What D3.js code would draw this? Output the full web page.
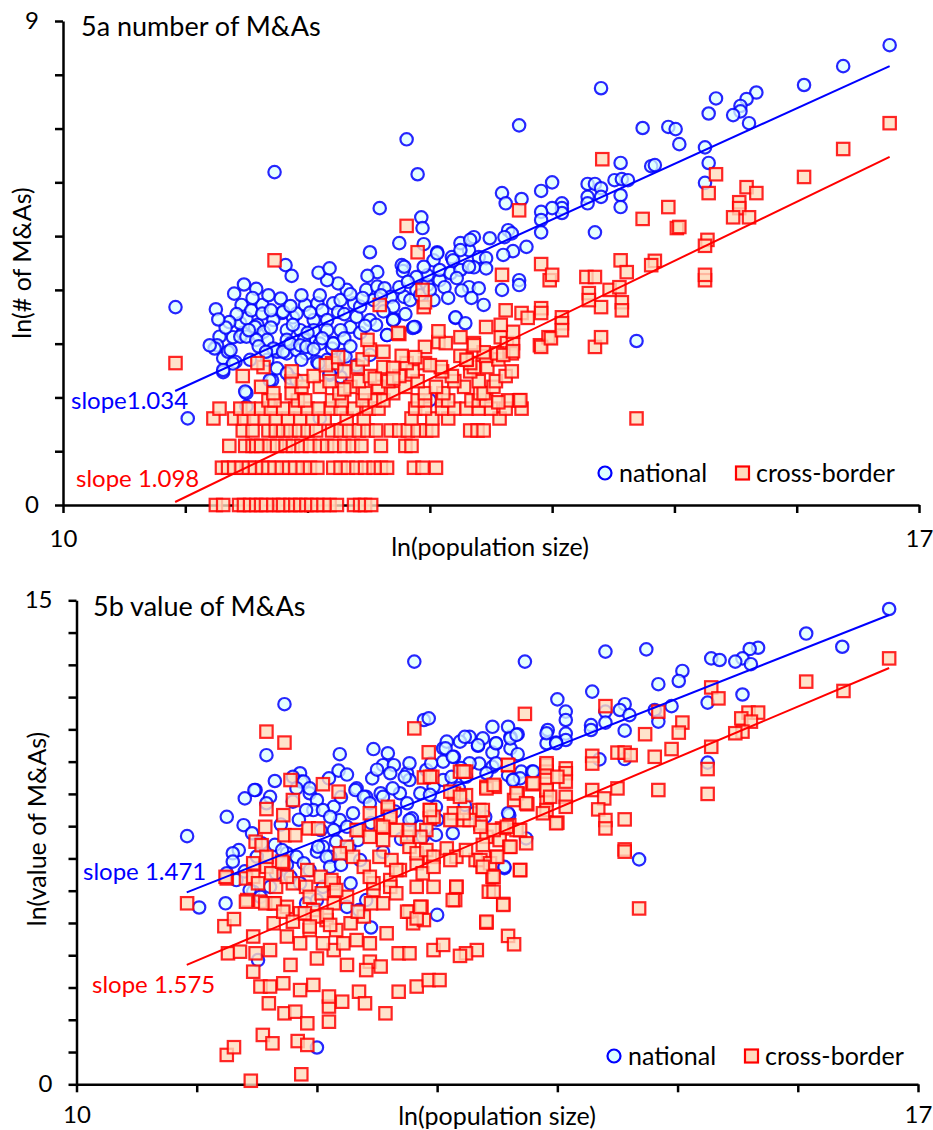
<!DOCTYPE html>
<html>
<head>
<meta charset="utf-8">
<script src="https://cdn.jsdelivr.net/npm/d3@7"></script>
<style>
  body { margin: 0; background: #fff; }
  svg text { font-family: Lato, "Open Sans", sans-serif; fill: #000; }
</style>
</head>
<body>
<svg id="chart" width="933" height="1130"></svg>
<script>
// ---- data: x = ln(population size) ----
const xTicks = [10, 11, 12, 13, 14, 15, 16, 17];
const fitX = [10.917, 16.76];

// panel 5a: y = ln(# of M&As)
const natA = [
  [16.76,8.55],[16.38,8.16],[16.06,7.81],[15.67,7.67],[15.59,7.55],[15.54,7.42],[15.54,7.32],[15.48,7.25],[15.61,7.10],[15.34,7.56],
  [15.28,7.28],[14.40,7.75],[13.73,7.06],[14.74,7.01],[14.95,7.03],[15.01,6.99],[15.04,6.71],[15.25,6.65],[15.28,6.36],[15.25,5.99],
  [14.56,6.36],[14.81,6.30],[14.84,6.32],[14.51,6.04],[14.57,6.06],[14.62,6.04],[14.56,5.76],[14.56,5.54],[14.29,5.97],[14.35,5.97],
  [14.40,5.89],[14.40,5.73],[14.29,5.73],[14.29,5.61],[14.00,6.00],[13.91,5.84],[13.59,5.80],[13.62,5.61],[13.75,5.69],[14.08,5.61],
  [14.08,5.52],[14.08,5.43],[14.00,5.52],[13.91,5.45],[13.91,5.30],[13.91,5.07],[14.35,5.07],[13.64,5.11],[13.67,5.05],[13.36,4.98],
  [13.49,4.96],[13.61,4.98],[13.79,4.80],[13.68,4.72],[13.60,4.65],[13.32,4.74],[13.40,4.61],[13.46,4.59],[13.36,4.42],[13.46,4.40],
  [13.73,4.18],[11.73,6.19],[12.81,6.80],[12.90,6.15],[12.59,5.52],[12.93,5.35],[12.94,5.15],[12.75,4.87],[12.51,4.70],[12.95,4.85],
  [11.82,4.46],[13.25,4.87],[13.06,4.70],[13.18,4.61],[12.77,4.46],[10.92,3.68],[11.25,3.64],[11.87,4.26],[12.57,4.33],[12.49,4.26],
  [12.78,4.35],[13.21,3.48],[12.71,3.46],[12.88,3.31],[11.02,1.61],[11.31,2.47],[11.41,2.66],[11.39,3.12],[11.47,3.20],[11.50,2.08],
  [11.59,3.35],[11.60,3.16],[11.71,2.32],[11.75,2.88],[11.86,2.36],[11.91,2.32],[11.79,3.57],[11.88,3.49],[11.94,3.25],[12.02,3.07],
  [12.08,2.66],[12.18,2.42],[12.27,2.38],[12.21,3.01],[12.29,2.79],[12.41,2.57],[12.35,3.31],[12.43,3.20],[12.51,3.44],[12.70,3.44],
  [12.86,3.29],[13.00,1.95],[13.21,3.49],[13.29,3.38],[13.32,4.05],[13.40,4.03],[13.59,4.00],[13.73,4.09],[13.34,3.85],[13.44,3.72],
  [14.69,3.05],[11.40,3.93],[11.48,4.10],[11.58,4.02],[11.46,3.72],[11.28,3.13],[11.26,2.97],[11.24,2.91],[11.31,2.73],[11.35,2.85],
  [11.45,3.13],[11.45,3.38],[11.50,3.47],[11.54,3.62],[11.63,3.72],[11.63,3.56],[11.57,3.31],[11.64,3.22],[11.67,3.07],[11.72,3.44],
  [11.78,3.84],[11.80,3.59],[11.83,3.25],[11.75,2.85],[11.83,2.82],[11.91,3.56],[11.98,3.72],[12.08,3.75],[12.05,3.44],[12.05,3.25],
  [12.12,3.62],[12.16,3.44],[12.21,3.75],[12.25,3.59],[12.27,3.81],[12.32,4.00],[12.38,3.75],[12.25,4.12],[12.16,4.18],[12.09,4.32],
  [12.18,4.40],[12.40,3.50],[12.43,3.69],[12.48,4.00],[12.57,4.06],[12.54,3.81],[12.63,4.03],[12.68,3.87],[12.70,3.69],[12.79,3.87],
  [12.84,3.81],[12.89,4.00],[12.98,4.09],[13.03,3.81],[13.08,4.18],[12.98,4.27],[12.89,4.24],[13.03,4.55],[13.08,4.37],[13.17,4.31],
  [13.25,4.37],[13.26,3.99],[13.32,4.43],[13.19,4.55],[13.25,4.74],[13.33,4.93],[13.06,4.68],[12.95,4.43],[12.79,4.43],[12.70,3.44],
  [12.87,3.31],[12.65,3.16],[12.51,2.79],[12.40,2.60],[12.31,2.76],[11.97,3.07],[11.91,2.88],[11.83,3.07],[12.16,3.25],[12.27,3.25],
  [11.99,2.82],[11.67,2.70],[11.53,2.70],[11.39,2.63],[12.16,2.70],[12.20,2.91],[12.24,2.57],[11.20,2.97],[11.37,2.88],[11.50,3.13],
  [11.58,3.07],[11.72,2.91],[11.80,2.85],[11.86,3.00],[11.94,2.97],[11.99,2.94],[12.10,3.00],[12.21,3.00],[12.09,2.63],[12.18,2.45],
  [11.69,2.32],[11.75,2.54],[11.83,2.45],[11.31,2.51],[11.49,2.11],[11.50,1.83],[12.10,1.61],[12.65,3.16],
  [11.55,3.85],[11.68,3.90],[11.70,3.62],[11.86,3.70],[11.95,3.90],[12.02,3.58],[12.10,3.90],[12.30,3.55],[12.35,3.92],[12.45,3.85],
  [12.60,3.90],[12.62,3.60],[12.75,4.05],[12.82,4.15],[12.92,3.90],[13.00,4.00],[13.12,4.05],[13.15,3.85],[13.22,4.22],[12.56,3.35],
  [12.47,3.33],[12.80,3.55],[11.42,3.55],[11.36,3.40],[11.52,3.25],[11.70,3.30],[11.88,3.35],[12.00,3.20],[12.12,3.10],[12.30,3.10],
  [11.33,3.30],[11.27,3.45],[11.60,2.95],[11.66,2.85],[11.95,2.70],[12.05,2.90],[12.35,2.95]
];

// cross-border 5a, low counts sit on rows ln(1), ln(2), ln(3) ...
const crossARows = [
  [0,     [11.25,11.31,11.44,11.48,11.53,11.58,11.62,11.66,11.72,11.77,11.80,11.86,11.90,11.94,11.99,12.03,12.08,12.13,12.18,12.24,12.38,12.43,12.47,12.52]],
  [0.693, [11.30,11.35,11.40,11.46,11.52,11.57,11.63,11.68,11.73,11.79,11.85,11.90,11.96,12.02,12.08,12.21,12.27,12.33,12.40,12.47,12.54,12.60,12.65,12.87,12.94,13.05]],
  [1.099, [11.36,11.49,11.55,11.58,11.62,11.69,11.75,11.82,11.88,11.95,12.02,12.10,12.16,12.22,12.30,12.37,12.44,12.60,12.80,12.85]],
  [1.386, [11.47,11.55,11.68,11.74,11.80,11.86,11.93,12.00,12.07,12.20,12.27,12.34,12.42,12.49,12.56,12.68,12.75,12.82,12.90,12.97,13.02,13.33,13.39,13.44]],
  [1.609, [11.23,11.40,11.48,11.56,11.65,11.74,11.84,11.94,12.04,12.14,12.32,12.46,12.85,13.02,13.15,13.57]],
  [1.792, [11.28,11.45,11.52,11.62,11.70,11.80,11.90,12.00,12.09,12.19,12.27,12.38,12.50,12.58,12.88,12.96,13.10,13.20,13.30,13.40,13.50,13.62,13.75]],
  [1.946, [11.68,11.73,11.92,11.98,12.20,12.28,12.45,12.55,12.62,12.90,12.96,13.10,13.15,13.34,13.40,13.46,13.64,13.73]],
  [2.079, [11.72,11.87,12.26,12.47,12.70,12.96,13.11,13.41,13.44]],
  [2.197, [11.62,11.95,12.10,12.35,12.58,12.80,13.05,13.28,13.52]],
  [2.303, [11.87,11.96,12.18,12.42,12.66,12.90,13.20,13.40,13.54]],
  [2.398, [11.47,12.05,12.51,12.75,13.18,13.62]],
  [2.485, [11.87,12.30,12.86,13.10,13.33,13.67]],
  [2.565, [11.64,12.41,12.62,13.09,13.36,13.47]],
  [2.639, [10.92,11.59,12.20,12.81,12.96,13.33]],
  [2.708, [12.45,13.30,13.56]],
  [2.773, [12.77,13.25,13.46]]
];
const crossAUpper = [
  [12.96,2.94],[12.51,2.89],[12.49,3.07],[13.07,3.03],[13.13,3.01],[13.25,3.12],[13.36,3.01],[13.58,3.12],[13.63,3.01],[13.68,3.01],
  [13.90,2.97],[13.97,3.12],[12.75,3.18],[13.07,3.23],[13.55,2.82],[13.67,2.82],[13.60,2.79],[13.68,2.86],[13.44,2.84],[13.91,2.94],
  [14.35,2.94],[13.99,3.10],[14.40,3.12],[13.68,3.22],[13.58,3.35],[13.46,3.31],[13.62,3.62],[13.75,3.57],[13.80,3.48],[14.08,3.49],
  [14.08,3.38],[14.08,3.25],[13.91,3.66],[13.91,3.57],[14.40,3.68],[14.57,3.77],[14.57,3.62],[14.30,3.94],[14.30,3.81],[14.47,4.00],
  [14.55,4.05],[13.98,4.18],[15.25,4.18],[12.94,4.00],[12.95,3.68],[12.96,3.77],[12.59,3.72],[12.74,3.20],[11.73,4.55],[12.81,5.19],
  [12.90,4.70],[14.69,1.61],[13.56,1.91],[13.74,1.95],[14.41,6.43],[13.73,5.48],[14.95,5.54],[14.74,5.32],[15.34,6.15],[15.28,5.80],
  [15.59,5.91],[15.67,5.80],[15.53,5.63],[15.53,5.52],[15.48,5.35],[15.61,5.35],[15.02,5.15],[15.04,5.17],[16.06,6.10],[16.38,6.62],
  [16.76,7.10],[15.27,4.93],[15.25,4.82],[15.25,4.28],[13.91,4.48],[14.00,4.28],[14.56,4.55],[14.84,4.54],[14.81,4.46],[14.61,4.33],
  [14.28,4.24],[14.35,4.24],[13.59,4.28],[13.36,2.97],[13.30,2.70],
  [12.15,2.60],[12.25,2.75],[12.62,2.85],[12.70,2.55],[12.88,2.75],[13.00,2.60],[12.55,2.35],[12.30,2.15],[12.70,2.35]
];

// panel 5b: y = ln(value of M&As)
const natB = [
  [16.76,14.73],[16.37,13.56],[16.07,13.97],[15.67,13.53],[15.60,13.49],[15.54,13.20],[15.48,13.10],[15.61,13.02],[15.28,13.20],[15.35,13.15],
  [14.74,13.48],[14.40,13.41],[13.73,13.10],[15.04,12.81],[15.01,12.50],[14.84,12.40],[15.54,12.08],[15.25,11.83],[14.95,11.72],[14.81,11.60],
  [14.84,11.24],[14.29,12.17],[14.00,11.93],[14.56,11.78],[14.52,11.60],[14.60,11.44],[14.40,11.55],[14.40,11.21],[14.28,11.13],[14.28,10.98],
  [14.56,10.96],[14.07,11.55],[14.07,11.29],[14.07,10.87],[14.07,10.67],[13.92,10.98],[13.91,10.57],[13.99,10.59],[13.67,10.85],[13.61,10.77],
  [13.59,11.08],[13.46,11.08],[13.27,10.77],[13.34,10.49],[13.49,10.56],[13.46,10.28],[13.61,10.41],[13.67,10.23],[14.35,10.07],[14.56,10.08],
  [15.25,9.97],[13.35,9.94],[13.46,9.84],[13.24,9.53],[13.59,9.58],[13.64,9.45],[13.70,9.69],[13.79,9.69],[13.60,8.34],[13.74,7.62],
  [14.68,6.97],[13.56,6.70],[12.81,13.10],[11.73,11.78],[11.58,10.20],[12.89,11.29],[12.93,11.34],[12.47,10.39],[12.59,10.26],[12.19,10.23],
  [12.18,9.72],[12.55,9.89],[12.64,9.89],[12.46,9.48],[13.05,10.41],[13.08,10.62],[13.19,10.62],[13.05,10.00],[13.14,10.15],[12.75,9.64],
  [12.77,9.43],[11.86,9.64],[11.87,9.38],[11.80,9.53],[12.10,9.48],[11.49,9.12],[11.40,8.86],[11.61,8.91],[11.25,8.29],[11.39,8.03],
  [10.92,7.69],[11.35,7.26],[12.33,9.17],[12.41,8.91],[12.53,9.02],[11.94,9.02],[12.00,8.81],[11.97,8.50],[12.14,8.60],[12.19,8.19],
  [12.25,7.98],[12.69,9.02],[12.86,9.02],[12.97,9.22],[13.05,9.43],[11.02,5.48],[11.24,5.61],[12.00,1.14],[13.00,5.25],[12.45,4.86],
  [11.51,3.85],[12.25,5.50],[12.35,5.40],[12.41,5.71],[11.30,7.16],[11.50,7.06],[11.75,7.16],[12.00,7.21],[12.11,7.05],[12.36,6.95],
  [11.47,5.97],[12.28,6.23],[13.23,10.77],[13.38,10.72],[13.49,10.57],[13.61,10.72],[13.66,10.83],[13.91,10.88],[13.99,10.57],[13.80,9.69],
  [13.69,9.48],[13.63,9.43],[13.07,10.41],[13.13,10.15],[13.27,9.95],[13.34,10.51],[11.48,9.12],[11.58,8.71],[11.46,7.78],[11.89,9.38],
  [11.83,9.17],[11.94,9.17],[11.80,8.76],[11.91,8.50],[12.05,8.50],[12.11,8.29],[12.14,7.88],[12.03,7.88],[12.05,7.36],[12.16,7.52],
  [12.32,9.12],[12.39,8.91],[12.44,8.71],[12.55,8.91],[12.63,9.17],[12.73,9.53],[12.75,8.71],[12.79,8.24],[12.86,7.98],[12.94,8.97],
  [12.99,8.60],[13.12,9.53],[13.18,9.17],[13.23,8.66],[13.31,8.40],[13.40,8.29],[12.77,8.19],[12.88,7.67],[12.99,7.73],[13.13,7.78],
  [13.56,6.74],[13.59,8.40],[11.54,7.47],[11.65,7.42],[11.71,7.26],[11.83,7.05],[11.89,6.85],[11.94,6.64],[12.01,7.36],[12.08,7.05],
  [12.11,6.74],[12.27,7.36],[12.34,7.57],[11.25,6.54],[11.33,6.33],[11.44,6.02],[11.53,5.81],[11.61,6.12],[11.66,6.54],[11.78,6.43],
  [11.86,6.23],[11.91,5.61],[12.00,5.71],[12.05,6.12],[12.77,9.95],[12.91,9.74],[12.61,9.64],[13.41,9.64],[13.49,9.95],
  [11.70,8.05],[11.85,8.20],[12.30,8.40],[12.45,8.10],[12.65,8.45],[12.25,9.60],[12.95,9.95],[13.20,9.80],[11.75,6.80],[12.20,6.80],
  [12.55,7.20],[12.70,7.60],[13.00,8.20],[11.30,6.90],[11.40,6.60],[12.20,8.90],[11.65,9.40],[12.50,9.75]
];
const crossB = [
  [11.58,10.93],[11.73,10.59],[12.81,11.03],[12.93,10.29],[11.78,9.43],[12.05,9.30],[12.18,9.07],[12.89,9.51],[12.96,9.53],[11.80,8.81],
  [11.58,8.53],[11.72,8.34],[12.44,8.40],[12.59,8.52],[12.61,8.34],[11.57,7.98],[11.93,7.93],[12.01,7.93],[11.73,7.72],[11.82,7.72],
  [11.49,7.52],[11.54,7.41],[12.94,8.50],[12.94,8.24],[13.14,8.40],[13.22,8.19],[13.14,9.01],[13.19,9.69],[12.53,8.03],[12.35,7.88],
  [16.76,13.20],[16.07,12.48],[16.38,12.19],[15.28,12.30],[15.34,11.96],[15.59,11.52],[15.67,11.52],[15.53,11.34],[15.61,11.24],[15.54,10.93],
  [15.48,10.88],[15.28,10.46],[15.25,9.77],[15.25,9.00],[14.84,11.55],[15.04,11.21],[15.01,10.90],[14.73,10.85],[14.95,10.39],[14.81,10.15],
  [14.84,9.12],[14.40,11.72],[14.50,10.28],[14.56,10.28],[14.61,10.20],[14.29,10.18],[14.29,9.94],[13.73,11.48],[13.59,9.89],[13.91,9.89],
  [13.91,9.69],[13.91,9.43],[13.91,9.10],[13.91,8.81],[13.91,8.50],[14.07,9.79],[14.07,9.64],[14.07,9.38],[14.07,8.91],[14.07,8.60],
  [14.00,9.53],[13.79,9.30],[13.67,9.01],[13.64,8.81],[13.75,8.68],[13.41,9.22],[13.48,9.22],[14.29,9.12],[14.39,8.86],[14.34,8.52],
  [14.40,8.19],[14.40,7.93],[14.50,9.17],[14.00,8.11],[14.56,8.21],[14.56,7.28],[13.60,8.03],[13.54,7.93],[13.66,7.88],[13.24,9.69],
  [13.24,8.96],[13.35,8.50],[13.36,8.09],[13.41,7.67],[13.52,7.57],[13.60,7.36],[13.74,7.47],[14.56,7.21],[14.68,5.45],[13.69,6.64],
  [13.46,6.43],[13.43,5.97],[13.55,5.59],[13.41,5.01],[13.59,4.60],[13.64,4.34],[13.33,4.16],[13.24,4.06],[13.32,6.95],[13.38,6.74],
  [13.49,7.05],[10.92,5.61],[11.25,6.38],[11.23,4.90],[11.31,5.12],[11.41,6.38],[11.26,4.06],[11.36,4.11],[11.49,4.06],[11.47,3.49],
  [11.53,3.03],[11.61,3.03],[11.60,2.51],[11.55,1.53],[11.63,1.27],[11.25,0.91],[11.31,1.15],[11.45,0.11],[11.87,0.31],[11.84,1.34],
  [11.92,1.22],[11.73,2.20],[11.82,2.25],[11.92,1.89],[12.10,1.94],[12.10,2.41],[12.10,2.72],[11.72,3.13],[11.86,2.92],[11.97,3.08],
  [12.21,2.56],[12.35,2.87],[12.40,2.51],[12.57,2.20],[12.68,2.87],[12.83,3.03],[12.93,3.23],[13.02,3.23],[12.25,3.70],[12.44,3.80],
  [12.53,3.65],[12.41,3.54],[12.68,4.06],[12.77,4.06],[12.97,4.16],[13.05,4.32],[13.19,3.98],[12.77,5.35],[12.87,5.50],[12.80,4.99],
  [12.89,5.09],[12.97,6.12],[13.15,5.71],[13.16,6.12],[11.78,3.70],[12.00,3.90],[12.14,4.16],[12.05,4.37],[12.22,4.37],[12.33,4.47],
  [12.44,4.37],[11.42,5.71],[11.53,5.66],[11.64,5.61],[11.75,5.50],[11.86,5.30],[11.97,5.40],[12.08,5.09],[12.14,5.61],[12.25,5.81],
  [12.47,6.02],[12.61,6.33],[12.69,6.64],[12.83,6.85],[12.94,7.05],[11.64,4.99],[11.75,4.58],[11.86,4.37],[11.94,4.78],[11.61,4.16],
  [11.47,4.58],[12.16,4.78],[12.28,4.99],[12.39,5.20],[12.55,5.61],[12.58,4.68],[12.47,6.23],[11.80,6.23],[11.92,6.64],[12.03,6.43],
  [12.14,6.23],[11.72,6.85],[11.58,6.74],[11.47,6.43],[11.24,6.43],[11.51,6.23],[11.62,6.54],[11.66,6.12],[11.75,6.43],[11.91,6.12],
  [11.94,5.81],[12.04,5.92],[12.12,6.33],[12.16,6.02],[11.41,5.66],[11.57,5.61],[11.65,5.61],[11.72,5.35],[11.80,5.04],[11.90,5.30],
  [12.00,5.20],[12.08,5.25],[12.11,4.94],[11.94,4.89],[12.25,7.36],[12.30,7.05],[12.39,6.74],[12.44,6.43],[12.52,7.05],[12.62,6.95],
  [12.66,6.64],[12.77,7.36],[12.83,7.16],[12.91,7.26],[12.97,7.05],[13.08,7.31],[13.16,7.05],[13.24,7.26],[13.36,6.95],[13.44,6.85],
  [13.50,7.05],[13.61,7.36],[13.38,7.42],[13.58,7.98],[13.69,7.88],[13.47,7.88],[13.36,7.98],[13.27,8.19],[13.22,8.40],[13.11,8.19],
  [12.97,8.29],[12.94,8.50],[12.91,7.88],[12.86,7.67],[12.75,7.67],[12.66,7.88],[12.55,7.57],[12.44,7.67],[12.33,7.88],[12.19,7.16],
  [12.61,6.12],[12.66,5.92],[12.83,6.12],[12.88,6.54],[12.97,6.74],[13.11,6.95],[13.38,6.74],[13.47,6.43],[13.69,6.64],[13.16,6.12],
  [13.13,5.71],[13.47,5.97],[13.55,5.56],[12.75,5.35],[12.83,5.14],[12.86,5.50],[13.41,5.04],[12.45,5.61],[12.34,5.35],[13.22,9.69],
  [13.11,9.07],[13.19,8.91],[13.41,9.17],[13.47,9.28],[13.59,9.90],[13.66,9.02],[13.74,8.71],[13.80,9.33],[13.91,9.95],[13.91,9.12],
  [13.94,8.91],[13.99,8.09],[13.88,8.40],[12.59,8.60],[12.61,8.29],[12.55,7.98],[12.77,7.88],[12.94,9.53],[13.38,8.50],[11.47,6.85],
  [11.58,7.05],[11.71,6.90]
];

// fitted lines: value at fitX[0] and slope
const fitA = { national: [2.12, 1.034], cross: [0.056, 1.098] };
const fitB = { national: [5.95, 1.471], cross: [3.70, 1.575] };

const crossA = crossARows.flatMap(([lv, xs]) => xs.map(v => [v, lv])).concat(crossAUpper);

const svg = d3.select('#chart');

function drawPanel(p) {
  const g = svg.append('g');
  const x = d3.scaleLinear().domain([10, 17]).range([p.left, p.right]);
  const y = d3.scaleLinear().domain([0, p.yMax]).range([p.bottom, p.top]);

  // axes first, markers sit over them
  const yAxis = d3.axisLeft(y)
    .tickValues(d3.range(0, p.yMax + 1))
    .tickSize(8).tickSizeOuter(0).tickPadding(16)
    .tickFormat(d => (d === 0 || d === p.yMax) ? d : '');
  const xAxis = d3.axisBottom(x)
    .tickValues(xTicks)
    .tickSize(8).tickSizeOuter(0).tickPadding(p.xLabelPad)
    .tickFormat(d => (d === 10 || d === 17) ? d : '');

  const ya = g.append('g').attr('transform', `translate(${p.left},0)`).call(yAxis);
  const xa = g.append('g').attr('transform', `translate(0,${p.bottom})`).call(xAxis);
  [ya, xa].forEach(a => {
    a.select('.domain').attr('stroke', '#000').attr('stroke-width', 2.5);
    a.selectAll('.tick line').attr('stroke', '#000').attr('stroke-width', 2.5);
    a.selectAll('.tick text').style('font-size', '24px').attr('fill', '#000');
  });

  g.append('g').selectAll('circle')
    .data(p.national)
    .join('circle')
    .attr('cx', d => x(d[0]))
    .attr('cy', d => y(d[1]))
    .attr('r', 6.2)
    .attr('fill', '#dcffff')
    .attr('fill-opacity', 0.75)
    .attr('stroke', '#0000ff')
    .attr('stroke-opacity', 0.85)
    .attr('stroke-width', 2.2);

  g.append('g').selectAll('rect')
    .data(p.cross)
    .join('rect')
    .attr('x', d => x(d[0]) - 6.2)
    .attr('y', d => y(d[1]) - 6.2)
    .attr('width', 12.4)
    .attr('height', 12.4)
    .attr('fill', '#ffdcbe')
    .attr('fill-opacity', 0.8)
    .attr('stroke', '#ff0000')
    .attr('stroke-opacity', 0.85)
    .attr('stroke-width', 2.2);

  // trend lines
  [['national', '#0000ff'], ['cross', '#ff0000']].forEach(([k, col]) => {
    const [a, b] = p.fit[k];
    g.append('line')
      .attr('x1', x(fitX[0])).attr('y1', y(a))
      .attr('x2', x(fitX[1])).attr('y2', y(a + b * (fitX[1] - fitX[0])))
      .attr('stroke', col).attr('stroke-width', 2);
  });

  g.append('text')
    .attr('x', p.titleX).attr('y', p.top + 6)
    .attr('dy', '0.35em')
    .style('font-size', '27px')
    .text(p.title);

  g.append('text')
    .attr('x', p.xTitleX).attr('y', p.bottom + p.xTitleDy)
    .attr('dy', '0.35em')
    .attr('text-anchor', 'middle')
    .style('font-size', '25px')
    .text('ln(population size)');

  g.append('text')
    .attr('transform', `translate(${p.yTitleX},${p.yTitleY}) rotate(-90)`)
    .attr('dy', '0.35em')
    .attr('text-anchor', 'middle')
    .style('font-size', '25px')
    .text(p.yTitle);

  p.slopeLabels.forEach(s => {
    g.append('text')
      .attr('x', s.x).attr('y', s.y)
      .attr('dy', '0.35em')
      .style('fill', s.color)
      .style('font-size', '24px')
      .text(s.text);
  });

  // legend
  const lg = g.append('g').attr('transform', `translate(${p.legendX},${p.legendY})`);
  lg.append('circle').attr('cx', 0).attr('cy', 0).attr('r', 6.5)
    .attr('fill', '#dcffff').attr('stroke', '#0000ff').attr('stroke-width', 2.2);
  lg.append('text').attr('x', 14).attr('dy', '0.35em').style('font-size', '25px').text('national');
  lg.append('rect').attr('x', 131).attr('y', -6.5).attr('width', 13).attr('height', 13)
    .attr('fill', '#ffdcbe').attr('stroke', '#ff0000').attr('stroke-width', 2.2);
  lg.append('text').attr('x', 151).attr('dy', '0.35em').style('font-size', '25px').text('cross-border');
}

drawPanel({
  left: 63, right: 919, top: 21, bottom: 505, yMax: 9,
  national: natA, cross: crossA, fit: fitA,
  title: '5a number of M&As', titleX: 81,
  xTitleX: 490, xTitleDy: 42, xLabelPad: 17,
  yTitle: 'ln(# of M&As)', yTitleX: 22, yTitleY: 263,
  slopeLabels: [
    { text: 'slope1.034', x: 71, y: 401, color: '#0000ff' },
    { text: 'slope 1.098', x: 76, y: 479, color: '#ff0000' }
  ],
  legendX: 605, legendY: 473
});

drawPanel({
  left: 76.5, right: 918, top: 600.3, bottom: 1084.3, yMax: 15,
  national: natB, cross: crossB, fit: fitB,
  title: '5b value of M&As', titleX: 93,
  xTitleX: 497, xTitleDy: 32, xLabelPad: 14,
  yTitle: 'ln(value of M&As)', yTitleX: 37, yTitleY: 829,
  slopeLabels: [
    { text: 'slope 1.471', x: 83, y: 872, color: '#0000ff' },
    { text: 'slope 1.575', x: 92, y: 985, color: '#ff0000' }
  ],
  legendX: 614, legendY: 1056
});
</script>
</body>
</html>
